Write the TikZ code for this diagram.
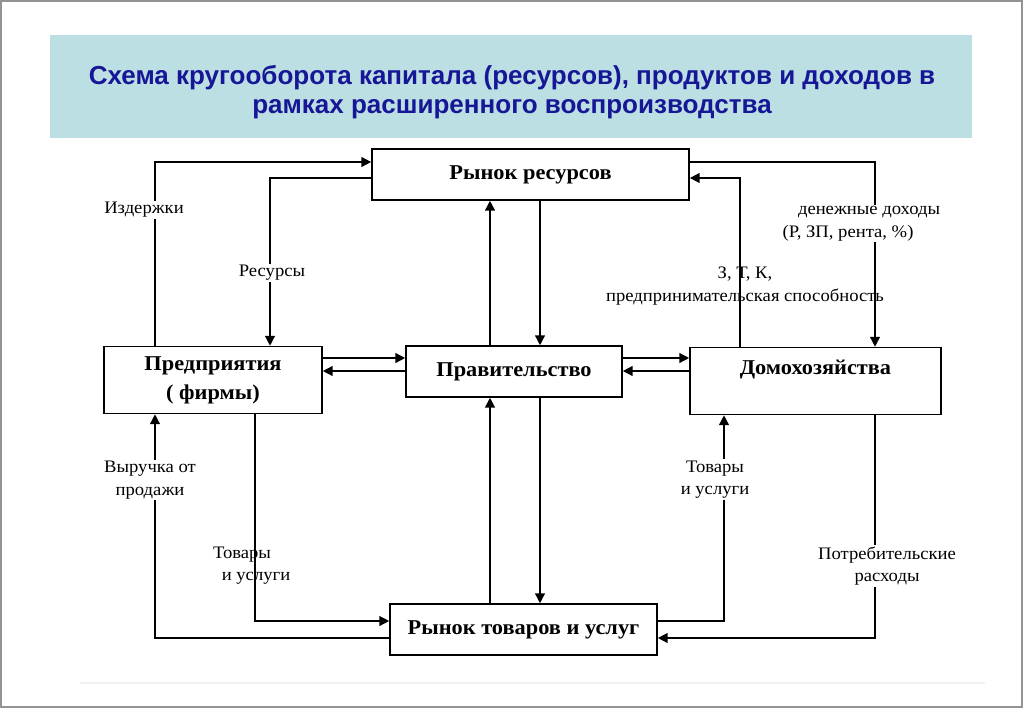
\documentclass[tikz,border=0pt]{standalone}
\usepackage{fontspec}
\setmainfont[FakeStretch=1.06]{Liberation Serif}
\newfontfamily\titlefont{Liberation Sans}
\usetikzlibrary{arrows.meta}
\definecolor{titlebg}{RGB}{188,223,227}
\definecolor{titleblue}{RGB}{22,22,150}
\tikzset{
    box/.style={draw, line width=1.1pt, align=center, inner sep=2pt,
        font=\bfseries\fontsize{15}{19.5}\selectfont},
    flow/.style={draw, line width=1pt, -{Triangle[length=7pt,width=7pt]}},
    lbl/.style={fill=white, inner sep=1pt, align=center,
        font=\fontsize{12.5}{16}\selectfont},
}
\begin{document}
\begin{tikzpicture}[x=0.025cm, y=-0.025cm]
    \useasboundingbox (0,0) rectangle (1024,709);
    \draw[gray!85, line width=1.5pt] (1,1) rectangle (1022,707);
    \draw[gray!12, line width=1.2pt] (80,683) -- (985,683);
    % title
    \fill[titlebg] (50,35) rectangle (972,138);
    \node[align=center, text=titleblue, font=\titlefont\bfseries\fontsize{18.5}{20.5}\selectfont]
        (title) at (512,92) {Схема кругооборота капитала (ресурсов), продуктов и доходов в\\
        рамках расширенного воспроизводства};
    % boxes
    \node[box, minimum width=7.925cm, minimum height=1.275cm] (resmkt) at (530.5,174.5) {Рынок ресурсов};
    \node[box, minimum width=5.45cm, minimum height=1.675cm] (firms) at (213,380) {Предприятия\\[1pt]( фирмы)};
    \node[box, minimum width=5.4cm, minimum height=1.275cm] (gov) at (514,371.5) {Правительство};
    \node[box, minimum width=6.275cm, minimum height=1.675cm] (house) at (815.5,381) {Домохозяйства\\\mbox{}};
    \node[box, minimum width=6.675cm, minimum height=1.275cm] (goodmkt) at (523.5,629.5) {Рынок товаров и услуг};
    % lanes
    \coordinate (xcost) at (155,0);
    \coordinate (xres) at (270,0);
    \coordinate (xgup) at (490,0);
    \coordinate (xgdn) at (540,0);
    \coordinate (xfac) at (740,0);
    \coordinate (xinc) at (875,0);
    \coordinate (xsup) at (255,0);
    \coordinate (xhg) at (724,0);
    \coordinate (yhi) at (0,162);
    \coordinate (ylo) at (0,178);
    \coordinate (yl1) at (0,358);
    \coordinate (yl2) at (0,371);
    \coordinate (yb1) at (0,621);
    \coordinate (yb2) at (0,638);
    % flows
    \draw[flow] (firms.north -| xcost) |- (resmkt.west |- yhi);
    \draw[flow] (resmkt.west |- ylo) -| (firms.north -| xres);
    \draw[flow] (resmkt.east |- yhi) -| (house.north -| xinc);
    \draw[flow] (house.north -| xfac) |- (resmkt.east |- ylo);
    \draw[flow] (gov.north -| xgup) -- (resmkt.south -| xgup);
    \draw[flow] (resmkt.south -| xgdn) -- (gov.north -| xgdn);
    \draw[flow] (goodmkt.north -| xgup) -- (gov.south -| xgup);
    \draw[flow] (gov.south -| xgdn) -- (goodmkt.north -| xgdn);
    \draw[flow] (firms.east |- yl1) -- (gov.west |- yl1);
    \draw[flow] (gov.west |- yl2) -- (firms.east |- yl2);
    \draw[flow] (gov.east |- yl1) -- (house.west |- yl1);
    \draw[flow] (house.west |- yl2) -- (gov.east |- yl2);
    \draw[flow] (goodmkt.west |- yb2) -| (firms.south -| xcost);
    \draw[flow] (firms.south -| xsup) |- (goodmkt.west |- yb1);
    \draw[flow] (goodmkt.east |- yb1) -| (house.south -| xhg);
    \draw[flow] (house.south -| xinc) |- (goodmkt.east |- yb2);
    % labels
    \node[lbl] (lcost) at (144,210) {Издержки};
    \node[lbl] (lres) at (272,273) {Ресурсы};
    \node[lbl] (linc) at (848,223.5) {\hspace*{1.05cm}денежные доходы\\(Р, ЗП, рента, \%)};
    \node[lbl, fill=none] (lfac) at (745,286) {З, Т, К,\\предпринимательская способность};
    \node[lbl] (lrev) at (150,480) {Выручка от\\продажи};
    \node[lbl, fill=none] (lsup) at (242,565.5) {Товары\\\hspace*{0.7cm}и услуги};
    \node[lbl] (lhg) at (715,479.5) {Товары\\и услуги};
    \node[lbl] (lcons) at (887,566) {Потребительские\\расходы};
\end{tikzpicture}
\end{document}
